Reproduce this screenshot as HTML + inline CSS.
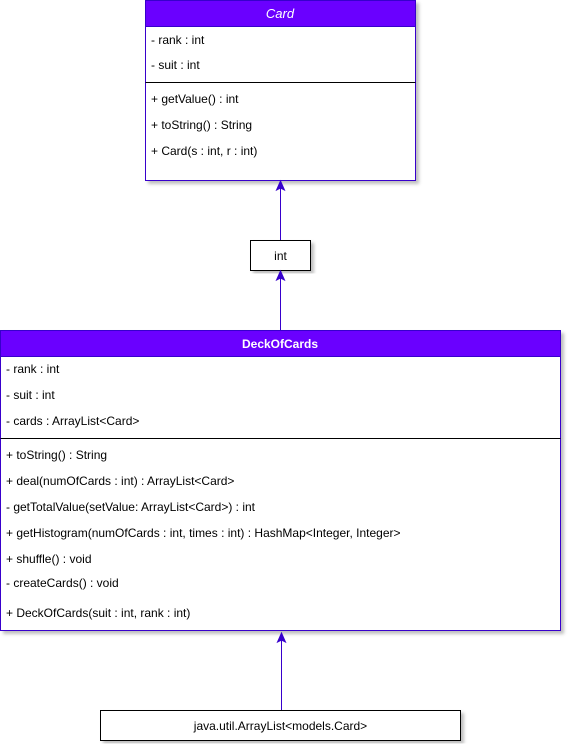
<!DOCTYPE html>
<html><head><style>body{margin:0;background:#fff}svg{display:block}text{font-family:"Liberation Sans",sans-serif;font-size:12px;fill:#000}</style></head><body>
<svg width="572" height="752" viewBox="0 0 572 752">
<defs><filter id="s" x="-5%" y="-5%" width="115%" height="115%"><feDropShadow dx="3" dy="3" stdDeviation="1.5" flood-color="#000" flood-opacity="0.25"/></filter></defs>
<!-- Card -->
<rect x="145.5" y="0.5" width="270" height="180" fill="#fff" stroke="#3700CC" filter="url(#s)"/>
<rect x="145.5" y="0.5" width="270" height="26" fill="#6a00ff" stroke="#3700CC"/>
<text x="280" y="18" text-anchor="middle" style="fill:#fff;font-style:italic;font-size:13px">Card</text>
<text x="151" y="44">- rank : int</text>
<text x="151" y="69">- suit : int</text>
<line x1="145.5" y1="82.5" x2="415.5" y2="82.5" stroke="#000"/>
<text x="151" y="103">+ getValue() : int</text>
<text x="151" y="129">+ toString() : String</text>
<text x="151" y="155">+ Card(s : int, r : int)</text>
<!-- int -->
<line x1="280.5" y1="240" x2="280.5" y2="188" stroke="#3700CC"/>
<path d="M280.5 181 L284.5 190 L280.5 188 L276.5 190 Z" fill="#3700CC" stroke="#3700CC"/>
<rect x="250.5" y="240.5" width="60" height="30" fill="#fff" stroke="#000" filter="url(#s)"/>
<text x="280.5" y="260" text-anchor="middle">int</text>
<line x1="280.5" y1="330" x2="280.5" y2="278" stroke="#3700CC"/>
<path d="M280.5 271 L284.5 280 L280.5 278 L276.5 280 Z" fill="#3700CC" stroke="#3700CC"/>
<!-- Deck -->
<rect x="0.5" y="330.5" width="560" height="300" fill="#fff" stroke="#3700CC" filter="url(#s)"/>
<rect x="0.5" y="330.5" width="560" height="26" fill="#6a00ff" stroke="#3700CC"/>
<text x="280" y="348" text-anchor="middle" style="fill:#fff;font-weight:bold;font-size:12px">DeckOfCards</text>
<text x="6" y="373">- rank : int</text>
<text x="6" y="399">- suit : int</text>
<text x="6" y="425">- cards : ArrayList&lt;Card&gt;</text>
<line x1="0.5" y1="438.5" x2="560.5" y2="438.5" stroke="#000"/>
<text x="6" y="459">+ toString() : String</text>
<text x="6" y="485">+ deal(numOfCards : int) : ArrayList&lt;Card&gt;</text>
<text x="6" y="511">- getTotalValue(setValue: ArrayList&lt;Card&gt;) : int</text>
<text x="6" y="537">+ getHistogram(numOfCards : int, times : int) : HashMap&lt;Integer, Integer&gt;</text>
<text x="6" y="563">+ shuffle() : void</text>
<text x="6" y="587">- createCards() : void</text>
<text x="6" y="617">+ DeckOfCards(suit : int, rank : int)</text>
<!-- ArrayList -->
<line x1="281.5" y1="710" x2="281.5" y2="640" stroke="#3700CC"/>
<path d="M281.5 633 L285.5 642 L281.5 640 L277.5 642 Z" fill="#3700CC" stroke="#3700CC"/>
<rect x="100.5" y="710.5" width="360" height="30" fill="#fff" stroke="#000" filter="url(#s)"/>
<text x="280.5" y="730" text-anchor="middle">java.util.ArrayList&lt;models.Card&gt;</text>
</svg>
</body></html>
